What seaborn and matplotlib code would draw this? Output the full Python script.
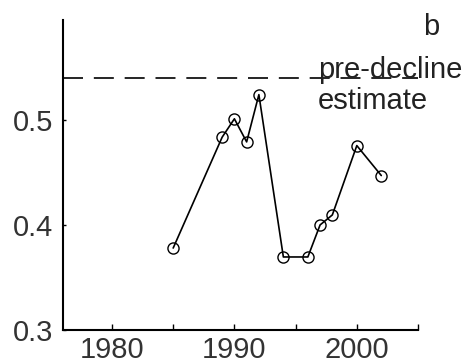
import pandas as pd
import matplotlib
matplotlib.use("Agg")
import matplotlib.pyplot as plt
import seaborn as sns

# values
years = [1985, 1989, 1990, 1991, 1992, 1994, 1996, 1997, 1998, 2000, 2002]
values = [0.378, 0.4835, 0.501, 0.479, 0.524, 0.3695, 0.3695, 0.400, 0.4095, 0.4755, 0.447]
pre_decline = 0.54
x_ticks = [1980, 1985, 1990, 1995, 2000, 2005]
x_labels = ["1980", "", "1990", "", "2000", ""]
y_ticks = [0.3, 0.4, 0.5]
y_labels = ["0.3", "0.4", "0.5"]

df = pd.DataFrame({"year": years, "value": values})

sns.set_style("ticks")
plt.rcParams["font.family"] = ["Liberation Sans", "DejaVu Sans"]

fig = plt.figure(figsize=(4.64, 3.64), dpi=100)
ax = fig.add_axes([0.1358, 0.0934, 0.7651, 0.8516])

sns.lineplot(data=df, x="year", y="value", ax=ax, color="black", linewidth=1.2,
             marker="o", markersize=8, markerfacecolor="none",
             markeredgecolor="black", markeredgewidth=1.0)
ax.axhline(pre_decline, color="black", linewidth=1.2, dashes=(12, 6.5))

ax.set_xlim(1976, 2005)
ax.set_ylim(0.3, 0.595)
ax.set_xticks(x_ticks)
ax.set_xticklabels(x_labels)
ax.set_yticks(y_ticks)
ax.set_yticklabels(y_labels)
ax.set_xlabel("")
ax.set_ylabel("")

for side in ["top", "right"]:
    ax.spines[side].set_visible(False)
for side in ["left", "bottom"]:
    ax.spines[side].set_linewidth(1.5)
    ax.spines[side].set_color("black")

ax.tick_params(axis="x", direction="in", length=4, width=1, pad=4, labelsize=21, colors="black")
ax.tick_params(axis="y", direction="in", length=2, width=1, pad=7, labelsize=21, colors="black")
for lab in ax.get_xticklabels() + ax.get_yticklabels():
    lab.set_color("#333333")

ax.text(1996.8, 0.540, "pre-decline", fontsize=21, color="#222222", va="baseline", ha="left", clip_on=False)
ax.text(1996.8, 0.510, "estimate", fontsize=21, color="#222222", va="baseline", ha="left", clip_on=False)
ax.text(2005.4, 0.581, "b", fontsize=21, color="#222222", va="baseline", ha="left", clip_on=False)

fig.savefig("out.png", dpi=100)
